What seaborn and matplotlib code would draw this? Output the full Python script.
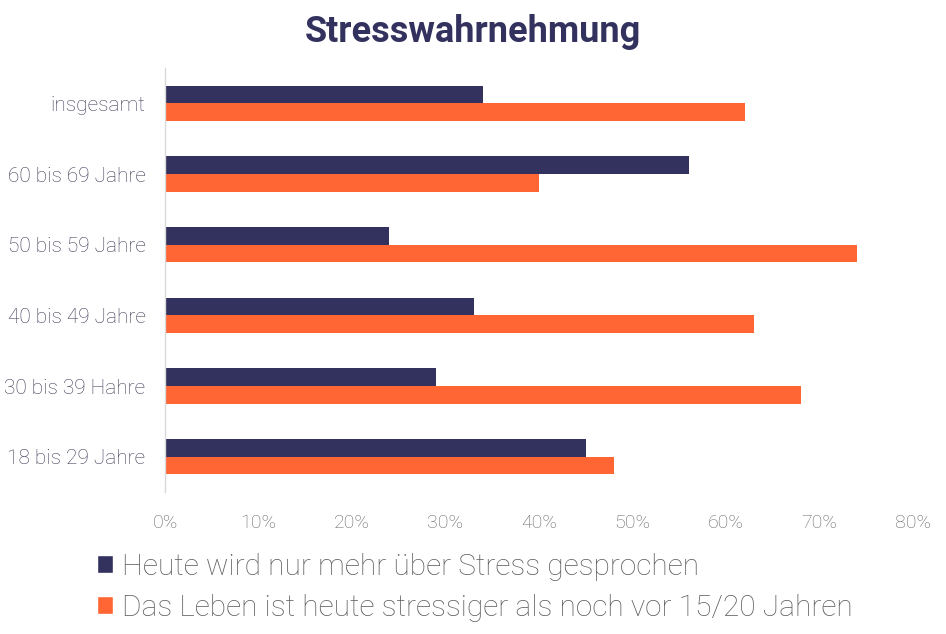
import pandas as pd
import matplotlib
matplotlib.use("Agg")
import matplotlib.pyplot as plt
import seaborn as sns
from matplotlib.patches import Patch
from matplotlib.ticker import PercentFormatter

categories = ["insgesamt", "60 bis 69 Jahre", "50 bis 59 Jahre",
              "40 bis 49 Jahre", "30 bis 39 Hahre", "18 bis 29 Jahre"]
series_names = ["Heute wird nur mehr über Stress gesprochen",
                "Das Leben ist heute stressiger als noch vor 15/20 Jahren"]
gesprochen = [34, 56, 24, 33, 29, 45]
stressiger = [62, 40, 74, 63, 68, 48]
colors = ["#33325f", "#ff6633"]

df = pd.DataFrame({
    "Gruppe": categories * 2,
    "Serie": [series_names[0]] * 6 + [series_names[1]] * 6,
    "Wert": gesprochen + stressiger,
})

sns.set_theme(style="white")
plt.rcParams["font.family"] = ["Roboto", "DejaVu Sans"]

fig = plt.figure(figsize=(9.46, 6.34), dpi=100)
ax = fig.add_axes([165 / 946, 1 - 492 / 634, (913 - 165) / 946, (492 - 68) / 634])

sns.barplot(data=df, x="Wert", y="Gruppe", hue="Serie", order=categories,
            hue_order=series_names, palette=colors, width=0.5,
            saturation=1, linewidth=0, ax=ax, legend=False)

ax.set_xlim(0, 80)
ax.set_xticks(range(0, 81, 10))
ax.xaxis.set_major_formatter(PercentFormatter(decimals=0))
ax.set_xlabel("")
ax.set_ylabel("")
ax.tick_params(axis="x", colors="#666666", labelsize=14, length=0, pad=16)
ax.tick_params(axis="y", colors="#3d3c58", labelsize=15, length=0, pad=14)
for lab in ax.get_xticklabels() + ax.get_yticklabels():
    lab.set_fontweight("light")
for s in ["top", "right", "bottom"]:
    ax.spines[s].set_visible(False)
ax.spines["left"].set_color("#d9d9d9")
ax.spines["left"].set_linewidth(1)

fig.text(0.5, 1 - 32 / 634, "Stresswahrnehmung", ha="center", va="center",
         fontsize=26, fontweight="bold", color="#33325f")

handles = [Patch(facecolor=c) for c in colors]
leg = fig.legend(handles, series_names, loc="upper left",
                 bbox_to_anchor=(97 / 946, 1 - 553 / 634), frameon=False,
                 fontsize=21.5, handlelength=0.55, handleheight=0.55,
                 handletextpad=0.3, labelspacing=0.42, borderaxespad=0,
                 borderpad=0)
for t in leg.get_texts():
    t.set_color("#5e5e5e")
    t.set_fontweight("light")

fig.savefig("out.png", dpi=100)
